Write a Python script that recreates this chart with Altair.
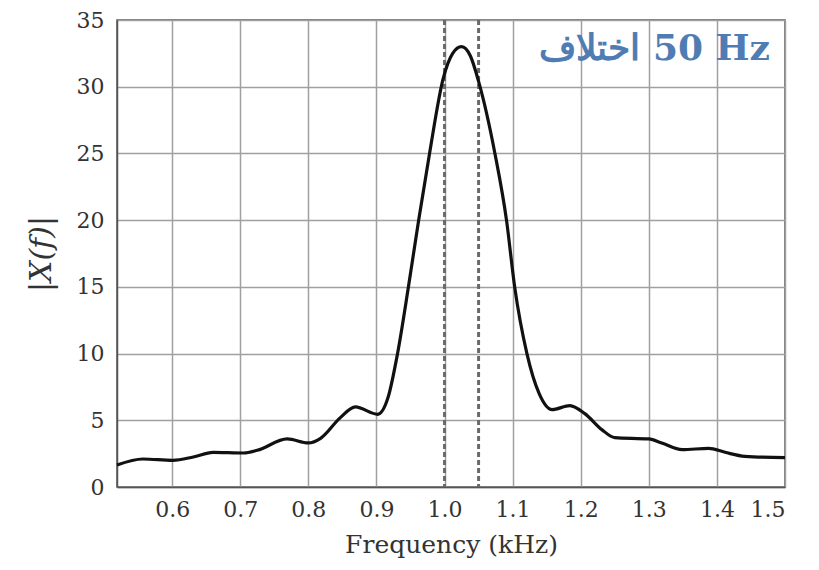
import altair as alt
import pandas as pd

freq = [0.519, 0.557, 0.601, 0.631, 0.660, 0.705, 0.725, 0.769, 0.800, 0.818,
        0.847, 0.869, 0.902, 0.917, 0.931, 0.947, 0.962, 0.978, 0.998, 1.012,
        1.025, 1.038, 1.050, 1.074, 1.091, 1.103, 1.121, 1.139, 1.158, 1.184,
        1.206, 1.231, 1.250, 1.300, 1.319, 1.349, 1.388, 1.412, 1.441, 1.5]
mag = [1.65, 2.1, 2.0, 2.25, 2.6, 2.55, 2.75, 3.6, 3.3, 3.65,
       5.2, 6.0, 5.45, 6.7, 10.0, 15.0, 20.0, 25.0, 30.6, 32.5,
       33.0, 32.3, 30.4, 25.0, 20.0, 15.0, 10.0, 7.0, 5.8, 6.1,
       5.5, 4.3, 3.7, 3.6, 3.3, 2.8, 2.9, 2.6, 2.3, 2.2]

marker_freqs = [1.0, 1.05]
x_ticks = [0.6, 0.7, 0.8, 0.9, 1.0, 1.1, 1.2, 1.3, 1.4, 1.5]
y_ticks = [0, 5, 10, 15, 20, 25, 30, 35]

# LRM marks keep the line left-to-right: Arabic word on the left, "50 Hz" on the right
note_text = ["\u200eاختلاف\u200e 50 Hz"]
note_x = [1.478]
note_y = [32.8]

curve = pd.DataFrame({"f": freq, "m": mag})
markers = pd.DataFrame({"f": marker_freqs})
note = pd.DataFrame({"f": note_x, "m": note_y, "t": note_text})

xscale = alt.Scale(domain=[0.519, 1.5], nice=False, zero=False)
yscale = alt.Scale(domain=[0, 35], nice=False)

xaxis = alt.Axis(values=x_ticks, format=".1f", title="Frequency (kHz)",
                 ticks=False, labelPadding=12, titlePadding=12, titleFontSize=25)
yaxis = alt.Axis(values=y_ticks, title="|X(f)|", ticks=False, labelPadding=13,
                 titlePadding=20, titleFontStyle="italic", titleFontSize=30,
                 titleFontWeight="normal")

line = alt.Chart(curve).mark_line(interpolate="monotone", color="#111111",
                                   strokeWidth=3.2).encode(
    x=alt.X("f:Q", scale=xscale, axis=xaxis),
    y=alt.Y("m:Q", scale=yscale, axis=yaxis),
)

rules = alt.Chart(markers).mark_rule(color="#6a6a6a", strokeWidth=3,
                                     strokeDash=[5, 3]).encode(
    x=alt.X("f:Q", scale=xscale),
)

text = alt.Chart(note).mark_text(align="right", baseline="middle",
                                 font="DejaVu Serif", fontSize=36,
                                 fontWeight="bold", color="#4f7db3").encode(
    x=alt.X("f:Q", scale=xscale),
    y=alt.Y("m:Q", scale=yscale),
    text="t:N",
)

chart = alt.layer(rules, line, text).properties(
    width=668, height=467,
    autosize=alt.AutoSizeParams(type="none"),
    padding={"left": 109, "top": 12, "right": 26, "bottom": 75},
).configure_axis(
    labelFont="DejaVu Serif", labelFontSize=22, labelColor="#333333",
    titleFont="DejaVu Serif", titleFontSize=23, titleColor="#333333",
    titleFontWeight="normal",
    gridColor="#a0a0a0", gridWidth=1.5, gridOpacity=1,
    domainColor="#555555", domainWidth=1.5,
).configure_view(stroke="#555555", strokeWidth=1.5)

chart.save("out.html", embed_options={"renderer": "svg", "actions": False})
